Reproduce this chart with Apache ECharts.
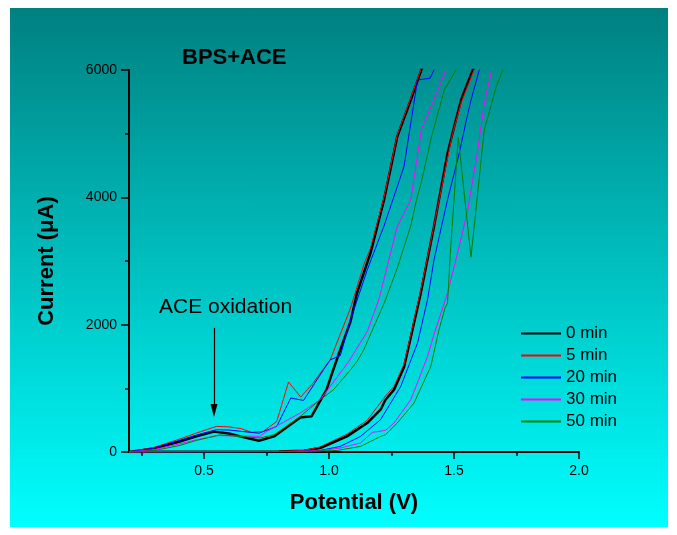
<!DOCTYPE html>
<html>
<head>
<meta charset="utf-8">
<script src="https://cdn.jsdelivr.net/npm/echarts@6/dist/echarts.min.js"></script>
<style>
  html, body { margin: 0; padding: 0; background: #ffffff; }
  #panel { position: absolute; left: 10px; top: 8px; width: 658px; height: 519px;
           background: linear-gradient(to bottom, #008080, #00ffff); }
  #chart { position: absolute; left: 0; top: 0; width: 677px; height: 535px; }
</style>
</head>
<body>
<div id="panel"></div>
<div id="chart"></div>
<script>
// Cyclic voltammograms of BPS+ACE after different times (potential in V, current in µA)
const seriesNames = ['0 min', '5 min', '20 min', '30 min', '50 min'];
const seriesColors = ['#000000', '#ff0000', '#0000ff', '#ff00ff', '#008000'];
const seriesWidths = [2.5, 1, 1, 1, 1];

const v0 = [0.20, 0.30, 0.40, 0.47, 0.54, 0.60, 0.66, 0.72, 0.78, 0.885, 0.93, 0.99, 1.017, 1.045, 1.086, 1.112, 1.166, 1.22, 1.273, 1.327, 1.367, 1.396,
            1.605, 1.575, 1.528, 1.494, 1.474, 1.42, 1.367, 1.30, 1.26, 1.226, 1.206, 1.153, 1.072, 0.965, 0.90, 0.80, 0.60, 0.40, 0.20];
const i0 = [0, 55, 160, 245, 320, 290, 230, 177, 245, 543, 560, 978, 1292, 1606, 2050, 2495, 3123, 3960, 4953, 5529, 5974, 6300,
            6300, 6000, 5529, 5006, 4693, 3541, 2495, 1330, 978, 821, 664, 455, 245, 63, 20, 8, 5, 3, 0];

const v5 = [0.20, 0.30, 0.40, 0.47, 0.55, 0.60, 0.65, 0.69, 0.737, 0.791, 0.838, 0.887, 0.931, 1.005, 1.086, 1.14, 1.166, 1.22, 1.273, 1.327, 1.367, 1.396,
            1.61, 1.58, 1.53, 1.494, 1.42, 1.367, 1.30, 1.26, 1.226, 1.153, 1.072, 0.965, 0.90, 0.80, 0.60, 0.40, 0.20];
const i5 = [0, 72, 200, 298, 402, 395, 366, 308, 324, 480, 1099, 863, 1056, 1449, 2260, 2950, 3200, 4000, 4980, 5560, 6000, 6320,
            6300, 6000, 5500, 5000, 3560, 2540, 1380, 1030, 880, 500, 280, 80, 25, 10, 6, 3, 0];

const v20 = [0.20, 0.30, 0.40, 0.47, 0.55, 0.60, 0.65, 0.72, 0.791, 0.847, 0.898, 0.978, 1.005, 1.045, 1.086, 1.153, 1.22, 1.30, 1.354, 1.404, 1.42, 1.43,
             1.63, 1.601, 1.568, 1.548, 1.521, 1.474, 1.42, 1.394, 1.354, 1.287, 1.206, 1.126, 1.045, 0.965, 0.90, 0.80, 0.60, 0.40, 0.20];
const i20 = [0, 62, 180, 267, 350, 345, 324, 295, 402, 848, 810, 1292, 1449, 1511, 2076, 2861, 3550, 4483, 5843, 5870, 6000, 6300,
             6300, 6000, 5529, 5189, 4693, 3960, 3018, 2390, 1711, 1030, 507, 245, 88, 25, 12, 6, 4, 2, 0];

const v30 = [0.20, 0.30, 0.40, 0.47, 0.556, 0.62, 0.724, 0.751, 0.885, 0.965, 1.079, 1.153, 1.199, 1.273, 1.327, 1.37, 1.42, 1.467, 1.50,
             1.68, 1.651, 1.621, 1.595, 1.555, 1.514, 1.474, 1.447, 1.42, 1.394, 1.36, 1.327, 1.26, 1.226, 1.173, 1.126, 1.045, 0.965, 0.85, 0.60, 0.40, 0.20];
const i30 = [0, 38, 125, 193, 258, 252, 245, 324, 612, 821, 1422, 1893, 2390, 3541, 3960, 5070, 5540, 6000, 6300,
             6300, 6000, 5477, 4745, 3803, 3123, 2495, 2170, 1850, 1500, 1150, 821, 455, 340, 308, 141, 63, 20, 8, 5, 3, 0];

const v50 = [0.20, 0.30, 0.40, 0.47, 0.563, 0.64, 0.724, 0.78, 0.885, 0.965, 1.018, 1.086, 1.112, 1.139, 1.206, 1.226, 1.273, 1.327, 1.35, 1.367, 1.41, 1.461, 1.508, 1.54,
             1.72, 1.695, 1.669, 1.621, 1.568, 1.517, 1.501, 1.487, 1.474, 1.464, 1.44, 1.407, 1.34, 1.273, 1.226, 1.206, 1.126, 1.033, 0.90, 0.60, 0.20];
const i50 = [0, 22, 100, 182, 268, 245, 220, 270, 559, 821, 978, 1292, 1422, 1606, 2207, 2390, 2888, 3550, 3960, 4200, 4950, 5686, 6000, 6300,
             6300, 6000, 5738, 5059, 3060, 4944, 4012, 3227, 2338, 2260, 1919, 1343, 769, 455, 272, 245, 88, 25, 8, 4, 0];

const potentials = [v0, v5, v20, v30, v50];
const currents = [i0, i5, i20, i30, i50];

// axis ticks
const xMajorTicks = [0.5, 1.0, 1.5, 2.0];
const xMinorTicks = [0.25, 0.75, 1.25, 1.75];

// annotation arrow (potential, start current, end current)
const arrowV = 0.54;
const arrowFrom = 1950;
const arrowTo = 650;

const FONT = '"Liberation Sans", Arial, Helvetica, sans-serif';

const chart = echarts.init(document.getElementById('chart'), null, { renderer: 'canvas' });

const series = seriesNames.map((name, k) => ({
  name: name,
  type: 'line',
  xAxisIndex: 0,
  yAxisIndex: 0,
  data: potentials[k].map((v, j) => [v, currents[k][j]]),
  symbol: 'none',
  clip: true,
  lineStyle: { color: seriesColors[k], width: seriesWidths[k] },
  itemStyle: { color: seriesColors[k] },
  emphasis: { disabled: true },
  z: 2 + k
}));

series[0].markLine = {
  silent: true,
  symbol: ['none', 'triangle'],
  symbolSize: [7, 13],
  label: { show: false },
  lineStyle: { color: '#000000', width: 1.2, type: 'solid' },
  data: [[{ coord: [arrowV, arrowFrom] }, { coord: [arrowV, arrowTo] }]]
};

chart.setOption({
  animation: false,
  backgroundColor: 'transparent',
  textStyle: { fontFamily: FONT },
  title: {
    text: 'BPS+ACE',
    left: 182,
    top: 47,
    padding: 0,
    textStyle: { fontFamily: FONT, fontSize: 22, fontWeight: 'bold', color: '#000000' }
  },
  grid: { left: 129, top: 70, right: 98, bottom: 83, containLabel: false, outerBoundsMode: 'none' },
  legend: {
    orient: 'vertical',
    left: 520,
    top: 325,
    padding: 0,
    itemWidth: 40,
    itemHeight: 17,
    itemGap: 5,
    selectedMode: false,
    data: seriesNames,
    itemStyle: { opacity: 0 },
    textStyle: { fontFamily: FONT, fontSize: 17, color: '#000000', lineHeight: 17 }
  },
  xAxis: [
    {
      type: 'value',
      min: 0.2,
      max: 2.0,
      position: 'bottom',
      name: 'Potential (V)',
      nameLocation: 'middle',
      nameGap: 40,
      nameTextStyle: { fontFamily: FONT, fontSize: 22, fontWeight: 'bold', color: '#000000' },
      axisLine: { show: true, onZero: false, lineStyle: { color: '#000000', width: 2 } },
      axisTick: { show: true, customValues: xMajorTicks, length: 7, lineStyle: { color: '#000000', width: 1.5 } },
      axisLabel: { show: true, customValues: xMajorTicks, margin: 12, fontFamily: FONT, fontSize: 14, color: '#000000',
                   formatter: v => Number(v).toFixed(1) },
      splitLine: { show: false }
    },
    {
      type: 'value',
      min: 0.2,
      max: 2.0,
      position: 'bottom',
      offset: 0,
      axisLine: { show: false },
      axisTick: { show: true, customValues: xMinorTicks, length: 4, lineStyle: { color: '#000000', width: 1.5 } },
      axisLabel: { show: false },
      splitLine: { show: false }
    }
  ],
  yAxis: {
    type: 'value',
    min: 0,
    max: 6000,
    interval: 2000,
    name: 'Current (μA)',
    nameLocation: 'middle',
    nameGap: 71,
    nameTextStyle: { fontFamily: FONT, fontSize: 22, fontWeight: 'bold', color: '#000000' },
    axisLine: { show: true, onZero: false, lineStyle: { color: '#000000', width: 2 } },
    axisTick: { show: true, length: 8, lineStyle: { color: '#000000', width: 1.5 } },
    minorTick: { show: true, splitNumber: 2, length: 4, lineStyle: { color: '#000000', width: 1.5 } },
    axisLabel: { margin: 12, fontFamily: FONT, fontSize: 14, color: '#000000', formatter: v => String(v) },
    splitLine: { show: false },
    minorSplitLine: { show: false }
  },
  graphic: [
    {
      type: 'text',
      left: 159,
      top: 297,
      style: { text: 'ACE oxidation', fontFamily: FONT, fontSize: 21, fill: '#000000' }
    }
  ],
  series: series
});
</script>
</body>
</html>
